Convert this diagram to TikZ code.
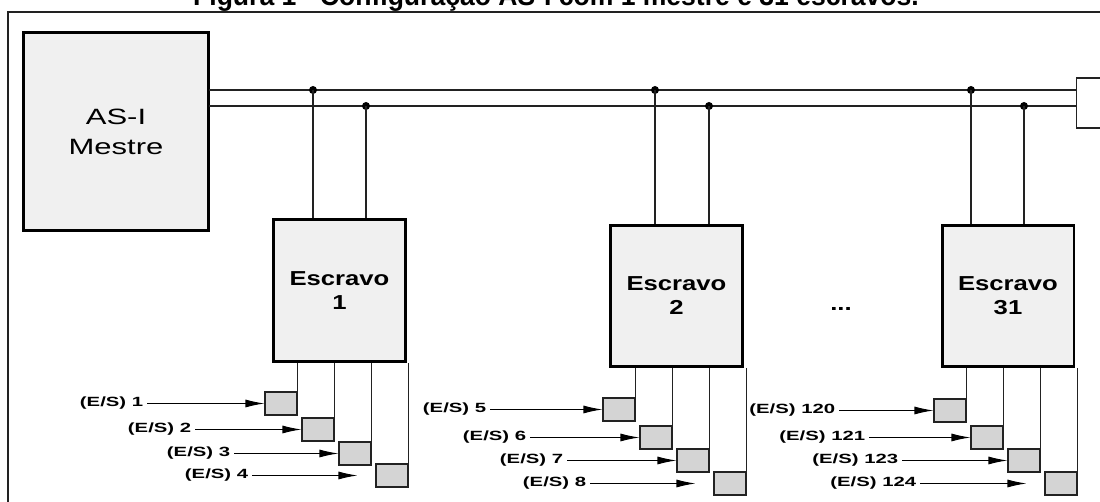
\documentclass[tikz,border=0pt]{standalone}
\usepackage{fontspec}
\setmainfont{Liberation Sans}
\newfontfamily\titlefont[FakeStretch=0.95]{Liberation Sans}
\newfontfamily\masterfont[FakeStretch=1.4]{Liberation Sans}
\newfontfamily\slavefont[FakeStretch=1.27]{Liberation Sans}
\newfontfamily\iofont[FakeStretch=1.52]{Liberation Sans}
\usetikzlibrary{arrows.meta}
\definecolor{boxgray}{HTML}{F0F0F0}
\definecolor{iogray}{HTML}{D4D4D4}
\definecolor{linegray}{HTML}{222222}
\tikzset{
  master/.style={draw, line width=1.7pt, fill=boxgray, minimum width=3.72cm, minimum height=3.98cm,
    align=center, font=\masterfont\fontsize{12.6}{17}\selectfont},
  slave/.style={draw, line width=1.7pt, fill=boxgray, minimum width=2.64cm, minimum height=2.84cm,
    align=center, font=\slavefont\bfseries\fontsize{11.5}{13.6}\selectfont},
  iobox/.style={draw=linegray, line width=0.6pt, fill=iogray, minimum width=0.64cm, minimum height=0.46cm, inner sep=0pt},
  iolabel/.style={font=\iofont\bfseries\fontsize{7.6}{9}\selectfont, inner xsep=2pt, inner ysep=0pt},
  busdot/.style={circle, fill, inner sep=0pt, minimum size=0.16cm},
  seta/.style={-{Latex[length=3.8mm, width=1.6mm]}, line width=0.6pt},
  wire/.style={line width=0.6pt, draw=linegray}
}
\begin{document}
\begin{tikzpicture}[x=0.02cm, y=-0.02cm]
    \useasboundingbox (0,0) rectangle (1100,502);
    \clip (0,0) rectangle (1100,502);

    %title (cut at the top)
    \node[font=\titlefont\bfseries\fontsize{15.9}{18}\selectfont, anchor=base, inner sep=0pt] (title) at (556,6)
      {Figura 1 - Configuração AS-I com 1 mestre e 31 escravos.};

    %frame
    \draw[line width=0.8pt, linegray] (8,12) rectangle (1115,515);

    %master and slaves
    \node[master] (mestre) at (116,131.5) {AS-I\\Mestre};
    \node[slave] (s1) at (339.5,290.5) {Escravo\\1};
    \node[slave] (s2) at (676.5,296) {Escravo\\2};
    \node[slave] (s3) at (1008,296) {Escravo\\31};
    \node[font=\slavefont\bfseries\fontsize{11.5}{13.6}\selectfont] (dots) at (841,309) {...};

    %bus
    \node[draw=linegray, line width=0.6pt, fill=white, minimum width=0.86cm, minimum height=1cm] (term) at (1098,103) {};
    \coordinate (busA) at (209,90);
    \coordinate (busB) at (209,106);
    \draw[wire] (busA) -- (busA -| term.west);
    \draw[wire] (busB) -- (busB -| term.west);

    %taps
    \node[busdot] (d1a) at (313,90) {};
    \node[busdot] (d1b) at (366,106) {};
    \node[busdot] (d2a) at (655,90) {};
    \node[busdot] (d2b) at (709,106) {};
    \node[busdot] (d3a) at (971,90) {};
    \node[busdot] (d3b) at (1024,106) {};
    \foreach \d/\s in {d1a/s1,d1b/s1,d2a/s2,d2b/s2,d3a/s3,d3b/s3}
      \draw[wire] (\d.center) -- (\d |- \s.north);

    %inputs/outputs escravo 1
    \foreach \n/\xr/\yo/\sh [count=\i from 0] in {1/147/30/0pt, 2/195/56/0pt, 3/234/80/0pt, 4/252/102/0.36cm}{
      \node[iobox] (o\n) at ({273-8+37*\i+16},{362+\yo+11.5}) {};
      \draw[wire] (o\n.north east) -- (o\n.north east |- s1.south);
      \node[iolabel, anchor=east] (e\n) at (\xr,{362+\yo+11.5}) {(E/S) \n};
      \draw[seta, shorten >=\sh] (e\n) -- (o\n);
    }

    %inputs/outputs escravo 2
    \foreach \n/\xr/\yo/\sh [count=\i from 0] in {5/490/31/0pt, 6/530/59/0pt, 7/567/82/0pt, 8/590/105/0.36cm}{
      \node[iobox] (o\n) at ({611-8+37*\i+16},{367+\yo+11.5}) {};
      \draw[wire] (o\n.north east) -- (o\n.north east |- s2.south);
      \node[iolabel, anchor=east] (e\n) at (\xr,{367+\yo+11.5}) {(E/S) \n};
      \draw[seta, shorten >=\sh] (e\n) -- (o\n);
    }

    %inputs/outputs escravo 31
    \foreach \n/\xr/\yo/\sh [count=\i from 0] in {120/839/32/0pt, 121/869/59/0pt, 123/902/82/0pt, 124/920/105/0.36cm}{
      \node[iobox] (o\n) at ({942-8+37*\i+16},{367+\yo+11.5}) {};
      \draw[wire] (o\n.north east) -- (o\n.north east |- s3.south);
      \node[iolabel, anchor=east] (e\n) at (\xr,{367+\yo+11.5}) {(E/S) \n};
      \draw[seta, shorten >=\sh] (e\n) -- (o\n);
    }
\end{tikzpicture}
\end{document}
